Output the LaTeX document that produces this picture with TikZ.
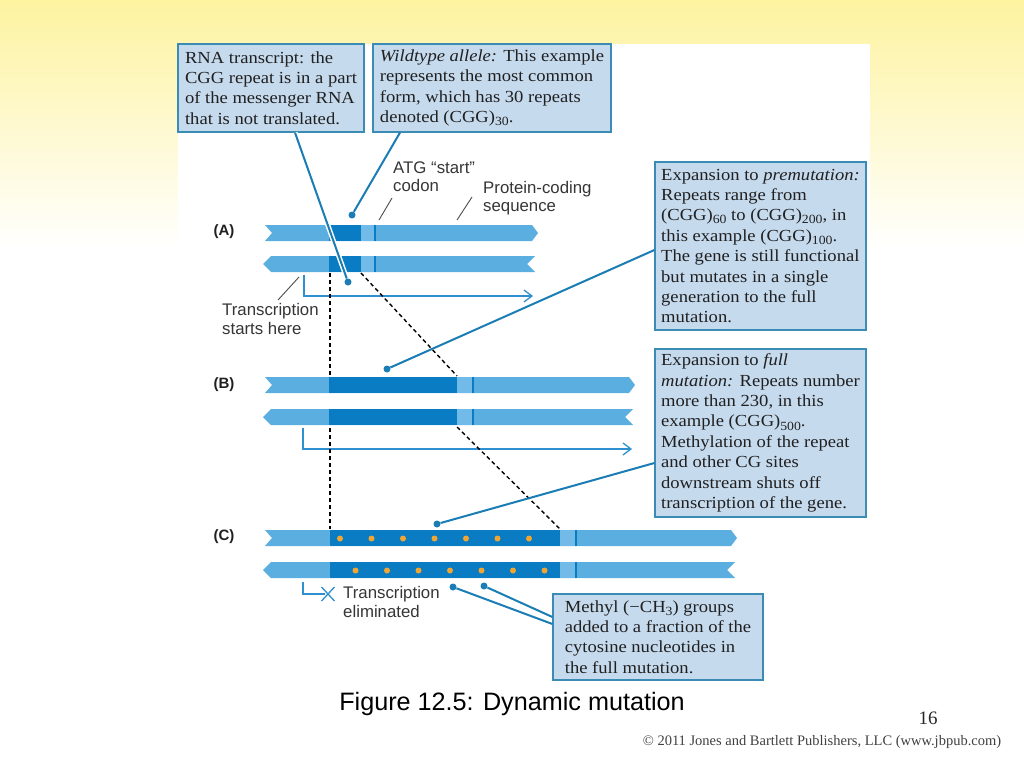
\documentclass[tikz,border=0pt]{standalone}
\usepackage{fontspec}
\setmainfont{Liberation Serif}
\newfontfamily\boxserif[FakeStretch=1.1]{Liberation Serif}
\newfontfamily\lblsans{Liberation Sans}
\usetikzlibrary{arrows.meta}
\definecolor{strand}{HTML}{5AAEE0}
\definecolor{strandlt}{HTML}{72BBE8}
\definecolor{strandDk}{HTML}{0A7CC4}
\definecolor{boxfill}{HTML}{C6DAEE}
\definecolor{boxline}{HTML}{3A8CB4}
\definecolor{callout}{HTML}{1A7DB5}
\definecolor{arrowblue}{HTML}{2E90D0}
\definecolor{txt}{HTML}{202020}
\definecolor{paleyel}{HTML}{FDF3A0}
\definecolor{dotor}{HTML}{F0A630}
\newcommand\sbs[1]{\raisebox{-0.4ex}{\fontsize{12.5}{12}\selectfont #1}}
\newcommand\dnaTop[3]{\fill[strand] (#1,#3) -- (#2-6,#3) -- (#2,#3+8) -- (#2-6,#3+16) -- (#1,#3+16) -- (#1+7,#3+8) -- cycle;}
\newcommand\dnaBot[3]{\fill[strand] (#1,#3+8) -- (#1+8,#3) -- (#2,#3) -- (#2-8,#3+8) -- (#2,#3+16) -- (#1+8,#3+16) -- cycle;}
\newcommand\dnaReg[4]{\fill[strandDk] (#1,#4) rectangle (#2,#4+16); \fill[strandlt] (#2,#4) rectangle (#3,#4+16); \draw[strandDk, line width=1.8pt] (#3,#4) -- (#3,#4+16);}
\begin{document}
\begin{tikzpicture}[x=1pt,y=-1pt,
  cbox/.style={draw=boxline, fill=boxfill, line width=1.2pt, inner sep=3pt, align=left, text=txt,
    font=\boxserif\fontsize{16.9}{20.4}\selectfont},
  lbl/.style={font=\lblsans\fontsize{16.8}{18.3}\selectfont, text=txt!90, align=left, inner sep=0pt, anchor=west},
  plab/.style={font=\lblsans\bfseries\fontsize{15}{15}\selectfont, text=txt, inner sep=0pt},
  co/.style={callout, line width=2pt},
  cocase/.style={white, line width=5pt},
  codot/.style={circle, fill=callout, inner sep=0pt, minimum size=7pt},
  lead/.style={draw=txt!80, line width=0.9pt},
  dsh/.style={black, line width=1.4pt, dash pattern=on 4pt off 3pt},
  tarrow/.style={arrowblue, line width=1.3pt, -{Straight Barb[length=8pt, width=12pt, line width=1.3pt]}},
  tline/.style={arrowblue, line width=1.3pt}]
\useasboundingbox (0,0) rectangle (1024,768);
% background
\shade[top color=paleyel, bottom color=white] (0,0) rectangle (1024,250);
\fill[white] (178,44) rectangle (870,700);

% ---- strands (A)
\dnaTop{265}{538}{225}
\dnaBot{263}{535}{256}
\dnaReg{329}{361}{375}{225}
\dnaReg{329}{361}{375}{256}
% ---- strands (B)
\dnaTop{265}{635}{377}
\dnaBot{263}{633}{409}
\dnaReg{329}{457}{473}{377}
\dnaReg{329}{457}{473}{409}
% ---- strands (C)
\dnaTop{265}{737}{530}
\dnaBot{263}{735}{562}
\dnaReg{330}{560}{576}{530}
\dnaReg{330}{560}{576}{562}
\foreach \x in {340,371.5,403,434.5,466,497.5,529} \fill[dotor] (\x,538.5) circle (3pt);
\foreach \x in {355.5,387,418.5,450,481.5,513,544.5} \fill[dotor] (\x,570.5) circle (3pt);

% panel labels
\node[plab] (la) at (224,232) {(A)};
\node[plab] (lb) at (224,385) {(B)};
\node[plab] (lc) at (224,537) {(C)};

% transcription arrows
\coordinate (tsA) at (304,275); \coordinate (teA) at (533,296);
\draw[tarrow] (tsA) |- (teA);
\coordinate (tsB) at (303,428); \coordinate (teB) at (632,449);
\draw[tarrow] (tsB) |- (teB);
\coordinate (tsC) at (303,582); \coordinate (teC) at (325,594);
\draw[tline] (tsC) |- (teC);
\coordinate (xc) at (328,594);
\draw[tline] ([shift={(-6.5,-7)}]xc) -- ([shift={(6.5,7)}]xc) ([shift={(-6.5,7)}]xc) -- ([shift={(6.5,-7)}]xc);

% dashed guide lines
\coordinate (v1) at (330,273); \coordinate (v2) at (330,376);
\coordinate (v3) at (330,428); \coordinate (v4) at (330,529);
\draw[dsh] (v1) -- (v2);
\draw[dsh] (v3) -- (v4);
\coordinate (d1) at (361,273); \coordinate (d2) at (457,376);
\coordinate (d3) at (457,427); \coordinate (d4) at (560,529);
\draw[dsh] (d1) -- (d2);
\draw[dsh] (d3) -- (d4);

% small labels
\node[lbl] (atg) at (393,177) {ATG “start”\\codon};
\node[lbl] (pcs) at (483,198.5) {Protein-coding\\sequence};
\node[lbl] (tsh) at (222,319) {Transcription\\starts here};
\node[lbl] (tel) at (343,602) {Transcription\\eliminated};
\coordinate (atgA) at (392,198); \coordinate (atgB) at (379,220);
\draw[lead] (atgA) -- (atgB);
\coordinate (pcsA) at (472,197); \coordinate (pcsB) at (457,220);
\draw[lead] (pcsA) -- (pcsB);
\coordinate (tshA) at (278,300); \coordinate (tshB) at (299,277);
\draw[lead] (tshA) -- (tshB);

% text boxes
\node[cbox, minimum width=186pt, minimum height=88pt] (b1) at (271,88)
 {RNA transcript: the\\CGG repeat is in a part\\of the messenger RNA\\that is not translated.};
\node[cbox, minimum width=238pt, minimum height=88pt] (b2) at (492,88)
 {\textit{Wildtype allele:} This example\\represents the most common\\form, which has 30 repeats\\denoted (CGG)\sbs{30}.};
\node[cbox, minimum width=211pt, minimum height=168pt] (bp) at (760.5,246)
 {Expansion to \textit{premutation:}\\Repeats range from\\(CGG)\sbs{60} to (CGG)\sbs{200}, in\\this example (CGG)\sbs{100}.\\The gene is still functional\\but mutates in a single\\generation to the full\\mutation.};
\node[cbox, minimum width=211pt, minimum height=168pt] (bf) at (760.5,433)
 {Expansion to \textit{full}\\\textit{mutation:} Repeats number\\more than 230, in this\\example (CGG)\sbs{500}.\\Methylation of the repeat\\and other CG sites\\downstream shuts off\\transcription of the gene.};
\node[cbox, minimum width=210pt, minimum height=86pt] (bm) at (658,637)
 {Methyl (−CH\sbs{3}) groups\\added to a fraction of the\\cytosine nucleotides in\\the full mutation.};

% callout dots and lines
\node[codot] (dRNA) at (348,282) {};
\node[codot] (dWT) at (352,215) {};
\node[codot] (dPre) at (387,369) {};
\node[codot] (dFull) at (437,524) {};
\node[codot] (dM1) at (453,587) {};
\node[codot] (dM2) at (484,586) {};
\draw[cocase] ([xshift=24pt]b1.south) -- (dRNA);
\draw[co] ([xshift=24pt]b1.south) -- (dRNA);
\draw[co] ([xshift=-92pt]b2.south) -- (dWT);
\draw[co] ([yshift=-4pt]bp.west) -- (dPre);
\draw[co] ([yshift=-30pt]bf.west) -- (dFull);
\draw[co] ([yshift=13pt]bm.west) -- (dM1);
\draw[co] ([yshift=20pt]bm.west) -- (dM2);

% caption and footer
\node[font=\lblsans\fontsize{25.2}{26}\selectfont, text=black] (cap) at (512,704) {Figure 12.5: Dynamic mutation};
\node[font=\fontsize{19}{20}\selectfont, text=black!85] (pg) at (928,718) {16};
\node[font=\fontsize{14.5}{15}\selectfont, text=black!75] (cr) at (822,742) {© 2011 Jones and Bartlett Publishers, LLC (www.jbpub.com)};
\end{tikzpicture}
\end{document}
